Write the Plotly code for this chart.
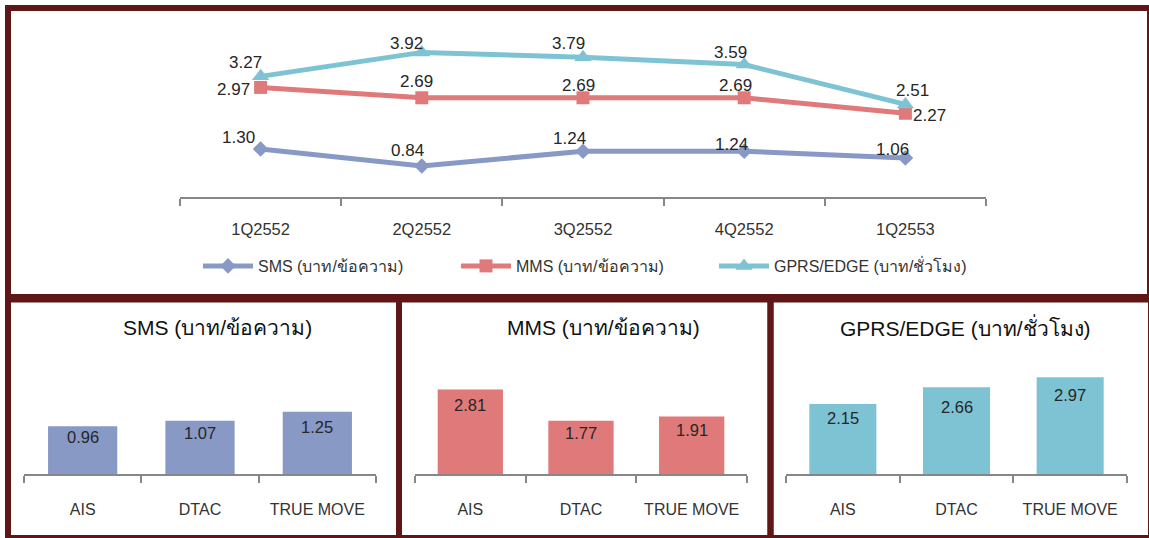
import plotly.graph_objects as go

# ---------------- data ----------------
quarters = ["1Q2552", "2Q2552", "3Q2552", "4Q2552", "1Q2553"]
sms_trend = [1.30, 0.84, 1.24, 1.24, 1.06]
mms_trend = [2.97, 2.69, 2.69, 2.69, 2.27]
gprs_trend = [3.27, 3.92, 3.79, 3.59, 2.51]

operators = ["AIS", "DTAC", "TRUE MOVE"]
sms_op = [0.96, 1.07, 1.25]
mms_op = [2.81, 1.77, 1.91]
gprs_op = [2.15, 2.66, 2.97]

name_sms = "SMS (บาท/ข้อความ)"
name_mms = "MMS (บาท/ข้อความ)"
name_gprs = "GPRS/EDGE (บาท/ชั่วโมง)"

# ---------------- style ----------------
W, H = 1149, 538
C_SMS = "#8999C6"
C_MMS = "#E07A7A"
C_GPRS = "#7EC3D3"
MAROON = "#5E1616"
AXIS = "#878787"
TXT = "#262626"
FONT = "Arial, 'Liberation Sans', 'Noto Sans', sans-serif"

def px_x(p):
    return p / W

def px_y(p):
    return 1 - p / H

# label offsets (px) for the line chart data labels
off_sms = [(-22, 12), (-14, 16), (-14, 13), (-13, 7), (-13, 8)]
off_mms = [(-27, -2), (-5, 16), (-5, 12), (-9, 12), (24, -2)]
off_gprs = [(-15, 14), (-15, 9), (-15, 14), (-14, 12), (7, 14)]
# bar label offsets (px below bar top)
boff_sms = [11, 12, 15]
boff_mms = [16, 12, 13]
boff_gprs = [14, 20, 18]

fig = go.Figure()

# ---- line chart ----
for name, vals, col, sym, size in [
    (name_sms, sms_trend, C_SMS, "diamond", 12),
    (name_mms, mms_trend, C_MMS, "square", 13),
    (name_gprs, gprs_trend, C_GPRS, "triangle-up", 15),
]:
    fig.add_trace(go.Scatter(
        x=quarters, y=vals, name=name, mode="lines+markers",
        line=dict(color=col, width=5),
        marker=dict(symbol=sym, size=size, color=col),
        xaxis="x", yaxis="y", cliponaxis=False,
    ))

annotations = []
for vals, offs in [(sms_trend, off_sms), (mms_trend, off_mms), (gprs_trend, off_gprs)]:
    for q, v, (dx, dy) in zip(quarters, vals, offs):
        annotations.append(dict(
            x=q, y=v, xref="x", yref="y", text=f"{v:.2f}", showarrow=False,
            xshift=dx, yshift=dy, font=dict(size=17, color=TXT, family=FONT),
        ))

# ---- bar charts ----
bars = [
    (sms_op, C_SMS, "x2", "y2", boff_sms),
    (mms_op, C_MMS, "x3", "y3", boff_mms),
    (gprs_op, C_GPRS, "x4", "y4", boff_gprs),
]
for vals, col, xa, ya, boffs in bars:
    fig.add_trace(go.Bar(
        x=operators, y=vals, marker=dict(color=col, line=dict(width=0)),
        width=0.59, xaxis=xa, yaxis=ya, showlegend=False,
    ))
    for o, v, b in zip(operators, vals, boffs):
        annotations.append(dict(
            x=o, y=v, xref=xa, yref=ya, text=f"{v:.2f}", showarrow=False,
            yshift=-b, font=dict(size=16.5, color=TXT, family=FONT),
        ))

# bar panel titles
for text, cx in [(name_sms, 217), (name_mms, 603), (name_gprs, 965)]:
    annotations.append(dict(
        x=px_x(cx), y=px_y(327), xref="paper", yref="paper", text=text,
        showarrow=False, xanchor="center", yanchor="middle",
        font=dict(size=21, color="#111111", family=FONT),
    ))

cat_axis = dict(
    type="category", showline=True, linecolor=AXIS, linewidth=2,
    ticks="outside", ticklen=7, tickwidth=2, tickcolor=AXIS,
    tickson="boundaries", showgrid=False, zeroline=False,
    tickfont=dict(size=16, color="#333333", family=FONT),
    tickangle=0, automargin=False, fixedrange=True,
)

bar_top = 354
bar_bot = 474
fig.update_layout(
    width=W, height=H,
    margin=dict(l=0, r=0, t=0, b=0, autoexpand=False),
    paper_bgcolor="white", plot_bgcolor="rgba(0,0,0,0)",
    font=dict(family=FONT, color=TXT),
    showlegend=True,
    legend=dict(
        orientation="h", x=px_x(198), y=px_y(266), xanchor="left", yanchor="middle",
        font=dict(size=16, color="#333333", family=FONT),
        entrywidth=193, entrywidthmode="pixels", itemwidth=50,
        bgcolor="rgba(0,0,0,0)",
    ),
    xaxis=dict(cat_axis, domain=[px_x(180), px_x(986)], range=[-0.5, 4.5],
               ticklabelstandoff=16, tickfont=dict(size=16.5, color="#333333", family=FONT)),
    yaxis=dict(domain=[px_y(197), px_y(31)], range=[0, 4.5], visible=False),
    xaxis2=dict(cat_axis, domain=[px_x(24), px_x(376)], range=[-0.5, 2.5],
                ticklabelstandoff=20, anchor="y2"),
    yaxis2=dict(domain=[px_y(bar_bot), px_y(bar_top)], range=[0, 2.41], visible=False, anchor="x2"),
    xaxis3=dict(cat_axis, domain=[px_x(415), px_x(747)], range=[-0.5, 2.5],
                ticklabelstandoff=20, anchor="y3"),
    yaxis3=dict(domain=[px_y(bar_bot), px_y(bar_top)], range=[0, 3.99], visible=False, anchor="x3"),
    xaxis4=dict(cat_axis, domain=[px_x(786), px_x(1127)], range=[-0.5, 2.5],
                ticklabelstandoff=20, anchor="y4"),
    yaxis4=dict(domain=[px_y(bar_bot), px_y(bar_top)], range=[0, 3.68], visible=False, anchor="x4"),
    annotations=annotations,
    bargap=0.41,
)

# panel borders
shapes = []
def rect(x0, y0, x1, y1, w):
    shapes.append(dict(type="rect", xref="paper", yref="paper",
                       x0=px_x(x0), x1=px_x(x1), y0=px_y(y0), y1=px_y(y1),
                       line=dict(color=MAROON, width=w), fillcolor="rgba(0,0,0,0)",
                       layer="above"))

rect(8, 8, 1150, 297, 6)
rect(8, 299.5, 399, 538, 6)
rect(399, 299.5, 770.5, 538, 6)
rect(770.5, 299.5, 1151, 538, 6)
fig.update_layout(shapes=shapes)

fig.write_html("out.html", config={"displayModeBar": False},
               post_script="document.body.style.margin='0';")
